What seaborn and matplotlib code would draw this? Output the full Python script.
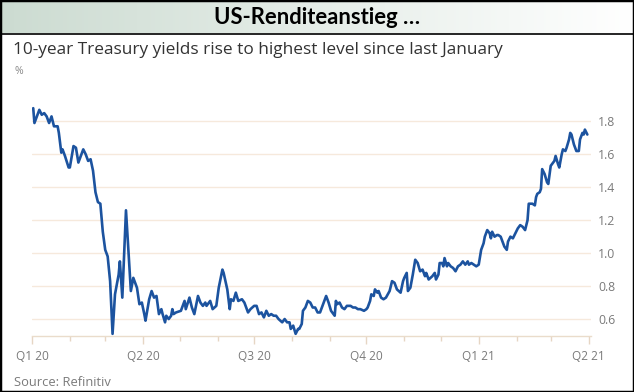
import pandas as pd
import numpy as np
import matplotlib.pyplot as plt
import matplotlib.dates as mdates
import seaborn as sns
from matplotlib.patches import Rectangle
from matplotlib.lines import Line2D

# 10-year Treasury yield (%)
dates = [
    "2020-01-02", "2020-01-03", "2020-01-07", "2020-01-09", "2020-01-11", "2020-01-13",
    "2020-01-15", "2020-01-17", "2020-01-19", "2020-01-22", "2020-01-23", "2020-01-25",
    "2020-01-26", "2020-01-28", "2020-01-31", "2020-02-01", "2020-02-04", "2020-02-06",
    "2020-02-08", "2020-02-12", "2020-02-14", "2020-02-16", "2020-02-18", "2020-02-20",
    "2020-02-22", "2020-02-24", "2020-02-26", "2020-02-28", "2020-03-01", "2020-03-03",
    "2020-03-05", "2020-03-07", "2020-03-09", "2020-03-11", "2020-03-12", "2020-03-13",
    "2020-03-15", "2020-03-18", "2020-03-20", "2020-03-22", "2020-03-24", "2020-03-27",
    "2020-03-29", "2020-03-31", "2020-04-02", "2020-04-03", "2020-04-06", "2020-04-08",
    "2020-04-10", "2020-04-12", "2020-04-14", "2020-04-16", "2020-04-17", "2020-04-19",
    "2020-04-20", "2020-04-22", "2020-04-24", "2020-04-25", "2020-04-26", "2020-04-28",
    "2020-05-02", "2020-05-05", "2020-05-06", "2020-05-09", "2020-05-11", "2020-05-13",
    "2020-05-16", "2020-05-18", "2020-05-20", "2020-05-22", "2020-05-23", "2020-05-25",
    "2020-05-26", "2020-05-28", "2020-05-31", "2020-06-02", "2020-06-05", "2020-06-06",
    "2020-06-09", "2020-06-11", "2020-06-12", "2020-06-14", "2020-06-16", "2020-06-18",
    "2020-06-21", "2020-06-23", "2020-06-26", "2020-06-28", "2020-07-01", "2020-07-03",
    "2020-07-05", "2020-07-07", "2020-07-09", "2020-07-11", "2020-07-13", "2020-07-15",
    "2020-07-17", "2020-07-19", "2020-07-21", "2020-07-24", "2020-07-26", "2020-07-28",
    "2020-07-30", "2020-07-31", "2020-08-02", "2020-08-04", "2020-08-06", "2020-08-07",
    "2020-08-09", "2020-08-10", "2020-08-12", "2020-08-14", "2020-08-16", "2020-08-18",
    "2020-08-20", "2020-08-22", "2020-08-24", "2020-08-26", "2020-08-29", "2020-08-31",
    "2020-09-02", "2020-09-05", "2020-09-06", "2020-09-07", "2020-09-09", "2020-09-11",
    "2020-09-13", "2020-09-15", "2020-09-18", "2020-09-20", "2020-09-22", "2020-09-24",
    "2020-09-26", "2020-09-29", "2020-10-01", "2020-10-02", "2020-10-04", "2020-10-05",
    "2020-10-07", "2020-10-08", "2020-10-10", "2020-10-11", "2020-10-13", "2020-10-15",
    "2020-10-17", "2020-10-20", "2020-10-22", "2020-10-24", "2020-10-26", "2020-10-29",
    "2020-10-31", "2020-11-01", "2020-11-03", "2020-11-04", "2020-11-06", "2020-11-08",
    "2020-11-10", "2020-11-12", "2020-11-14", "2020-11-16", "2020-11-18", "2020-11-19",
    "2020-11-21", "2020-11-24", "2020-11-26", "2020-11-27", "2020-11-29", "2020-11-30",
    "2020-12-02", "2020-12-03", "2020-12-04", "2020-12-06", "2020-12-07", "2020-12-09",
    "2020-12-11", "2020-12-13", "2020-12-15", "2020-12-17", "2020-12-19", "2020-12-21",
    "2020-12-23", "2020-12-24", "2020-12-26", "2020-12-28", "2020-12-30", "2021-01-01",
    "2021-01-03", "2021-01-05", "2021-01-06", "2021-01-08", "2021-01-10", "2021-01-11",
    "2021-01-12", "2021-01-14", "2021-01-16", "2021-01-17", "2021-01-19", "2021-01-21",
    "2021-01-22", "2021-01-24", "2021-01-25", "2021-01-27", "2021-01-29", "2021-01-31",
    "2021-02-02", "2021-02-04", "2021-02-06", "2021-02-08", "2021-02-10", "2021-02-11",
    "2021-02-14", "2021-02-16", "2021-02-17", "2021-02-18", "2021-02-20", "2021-02-21",
    "2021-02-22", "2021-02-24", "2021-02-26", "2021-02-27", "2021-03-01", "2021-03-03",
    "2021-03-04", "2021-03-05", "2021-03-07", "2021-03-08", "2021-03-10", "2021-03-11",
    "2021-03-13", "2021-03-14", "2021-03-16", "2021-03-17", "2021-03-18", "2021-03-20",
    "2021-03-22", "2021-03-24", "2021-03-25", "2021-03-27", "2021-03-28", "2021-03-29",
    "2021-03-31",
]
yields = [
    1.88, 1.79, 1.87, 1.84, 1.85, 1.83,
    1.79, 1.83, 1.77, 1.77, 1.73, 1.61,
    1.63, 1.59, 1.52, 1.52, 1.65, 1.64,
    1.55, 1.63, 1.60, 1.56, 1.57, 1.50,
    1.37, 1.31, 1.30, 1.13, 1.02, 0.98,
    0.83, 0.51, 0.75, 0.83, 0.87, 0.95,
    0.73, 1.26, 1.01, 0.77, 0.85, 0.79,
    0.69, 0.70, 0.63, 0.59, 0.72, 0.77,
    0.73, 0.74, 0.63, 0.66, 0.63, 0.58,
    0.62, 0.60, 0.62, 0.66, 0.63, 0.64,
    0.65, 0.71, 0.66, 0.73, 0.67, 0.63,
    0.74, 0.70, 0.68, 0.70, 0.68, 0.70,
    0.71, 0.66, 0.68, 0.79, 0.90, 0.88,
    0.78, 0.66, 0.72, 0.71, 0.76, 0.71,
    0.72, 0.70, 0.64, 0.66, 0.68, 0.68,
    0.63, 0.64, 0.61, 0.65, 0.62, 0.63,
    0.62, 0.62, 0.60, 0.58, 0.60, 0.58,
    0.58, 0.54, 0.56, 0.51, 0.54, 0.54,
    0.57, 0.65, 0.67, 0.71, 0.70, 0.67,
    0.67, 0.64, 0.64, 0.68, 0.74, 0.70,
    0.65, 0.62, 0.71, 0.69, 0.70, 0.67,
    0.66, 0.68, 0.68, 0.67, 0.67, 0.66,
    0.66, 0.65, 0.66, 0.67, 0.71, 0.75,
    0.74, 0.78, 0.76, 0.77, 0.73, 0.72,
    0.73, 0.77, 0.83, 0.82, 0.78, 0.76,
    0.83, 0.85, 0.88, 0.77, 0.79, 0.87,
    0.96, 0.94, 0.89, 0.90, 0.86, 0.88,
    0.84, 0.86, 0.88, 0.84, 0.87, 0.94,
    0.94, 0.92, 0.97, 0.92, 0.94, 0.92,
    0.91, 0.89, 0.92, 0.93, 0.95, 0.93,
    0.95, 0.93, 0.94, 0.93, 0.92, 0.93,
    1.02, 1.06, 1.10, 1.14, 1.12, 1.09,
    1.13, 1.10, 1.11, 1.11, 1.10, 1.06,
    1.04, 1.02, 1.07, 1.10, 1.09, 1.12,
    1.15, 1.17, 1.16, 1.14, 1.20, 1.30,
    1.30, 1.29, 1.34, 1.36, 1.37, 1.39,
    1.51, 1.48, 1.43, 1.42, 1.53, 1.55,
    1.56, 1.59, 1.54, 1.52, 1.60, 1.63,
    1.62, 1.64, 1.69, 1.73, 1.72, 1.66,
    1.62, 1.62, 1.69, 1.73, 1.72, 1.75,
    1.72,
]

quarter_starts = ["2020-01-01", "2020-04-01", "2020-07-01", "2020-10-01", "2021-01-01", "2021-04-01"]
quarter_labels = ["Q1 20", "Q2 20", "Q3 20", "Q4 20", "Q1 21", "Q2 21"]
y_ticks = [0.6, 0.8, 1.0, 1.2, 1.4, 1.6, 1.8]

df = pd.DataFrame({"date": pd.to_datetime(dates), "yield": yields})

sns.set_theme(style="white")
plt.rcParams["font.family"] = ["Open Sans", "DejaVu Sans"]

W, H = 634, 392
fig = plt.figure(figsize=(W / 100, H / 100), dpi=100)
fig.patch.set_facecolor("white")

# header band with a soft grey-green gradient
band = fig.add_axes([0, 1 - 33 / H, 1, 33 / H])
grad = np.linspace(0, 1, 256)
left_col = np.array([0.80, 0.86, 0.82])
cols = left_col[None, :] * (1 - grad[:, None]) + np.ones(3)[None, :] * grad[:, None]
band.imshow(cols[None, :, :], aspect="auto", extent=[0, 1, 0, 1])
band.set_axis_off()
fig.text(0.5, 1 - 17.5 / H, "US-Renditeanstieg …", ha="center", va="center",
         fontsize=15.8, fontweight="bold", color="black", family=["Lato", "DejaVu Sans"])
fig.add_artist(Line2D([0, 1], [1 - 33.5 / H, 1 - 33.5 / H], transform=fig.transFigure,
                      color="black", lw=1.2))

# main chart
ax = fig.add_axes([32 / W, 1 - 336 / H, (591 - 32) / W, (336 - 95) / H])
sns.lineplot(data=df, x="date", y="yield", ax=ax, color="#1c539f", linewidth=1.9,
             solid_joinstyle="round")

ax.set_xlim(pd.Timestamp("2020-01-01"), pd.Timestamp("2021-04-03"))
ax.set_ylim(0.497, 1.96)
ax.set_xlabel("")
ax.set_ylabel("")

ax.set_yticks(y_ticks)
ax.set_yticklabels([f"{v:.1f}" for v in y_ticks])
ax.yaxis.tick_right()
ax.tick_params(axis="y", length=0, pad=5, labelsize=8.8, labelcolor="#7a7a7a")
ax.grid(axis="y", color="#f6e9dc", lw=1)
ax.grid(axis="x", visible=False)

ax.set_xticks(pd.to_datetime(quarter_starts))
ax.set_xticklabels(quarter_labels)
ax.xaxis.set_minor_locator(mdates.MonthLocator())
ax.tick_params(axis="x", which="major", direction="out", length=6, width=1,
               color="#e6d6c4", pad=4, labelsize=8.6, labelcolor="#7a7a7a", bottom=True)
ax.tick_params(axis="x", which="minor", direction="out", length=3.5, width=1,
               color="#e6d6c4", bottom=True)

for side in ["top", "left", "right"]:
    ax.spines[side].set_visible(False)
ax.spines["bottom"].set_color("#eadccb")
ax.spines["bottom"].set_linewidth(1)

fig.text(13 / W, 1 - 49.5 / H, "10-year Treasury yields rise to highest level since last January",
         ha="left", va="center", fontsize=12.4, color="#333333")
fig.text(14 / W, 1 - 72 / H, "%", ha="left", va="center", fontsize=7.5, color="#8a8a8a")
fig.text(14 / W, 1 - 382 / H, "Source: Refinitiv", ha="left", va="center",
         fontsize=9.3, color="#7a7a7a")

# outer frame
fig.add_artist(Rectangle((0, 0), 1, 1, transform=fig.transFigure, fill=False,
                         edgecolor="black", lw=2.5, zorder=10))

fig.savefig("out.png", dpi=100)
